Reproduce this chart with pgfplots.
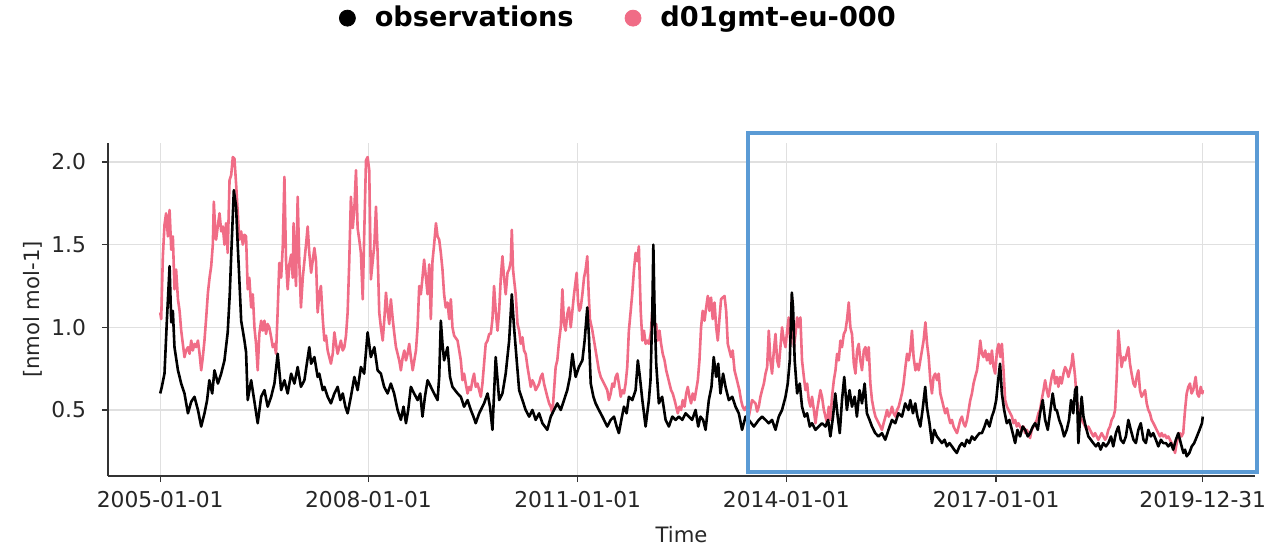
\documentclass[border=0pt]{standalone}
\usepackage{fontspec}
\setmainfont{DejaVu Sans}
\usepackage{pgfplots}
\pgfplotsset{compat=1.18}
\usepackage{pgfplotstable}
\definecolor{modc}{RGB}{240,108,134}
\definecolor{boxc}{RGB}{91,155,213}
\definecolor{gridc}{RGB}{224,224,224}
\definecolor{spinec}{RGB}{51,51,51}
\definecolor{txtc}{RGB}{38,38,38}

\pgfplotstableread{
d v
0 0.60
8 0.64
21 0.72
33 1.05
46 1.37
54 1.03
62 1.10
70 0.88
87 0.74
103 0.66
119 0.60
136 0.48
152 0.55
168 0.58
185 0.50
201 0.40
217 0.48
230 0.56
241 0.68
255 0.60
266 0.74
283 0.66
299 0.72
315 0.80
331 0.97
341 1.20
348 1.43
361 1.83
372 1.73
380 1.50
388 1.29
397 1.04
413 0.92
421 0.85
429 0.56
446 0.68
462 0.55
478 0.42
495 0.58
511 0.62
527 0.52
544 0.58
560 0.66
576 0.84
593 0.62
609 0.68
625 0.60
642 0.72
658 0.66
674 0.76
690 0.64
707 0.68
731 0.88
740 0.78
756 0.82
772 0.70
780 0.72
797 0.62
805 0.64
821 0.58
837 0.54
854 0.60
870 0.64
883 0.56
895 0.60
908 0.52
919 0.48
935 0.58
952 0.70
968 0.62
984 0.76
1000 0.72
1017 0.97
1033 0.82
1050 0.88
1066 0.74
1082 0.72
1098 0.64
1115 0.60
1131 0.66
1147 0.60
1164 0.50
1180 0.44
1193 0.52
1205 0.42
1216 0.50
1229 0.64
1245 0.60
1262 0.56
1275 0.60
1286 0.46
1298 0.58
1311 0.68
1327 0.64
1343 0.60
1360 0.56
1368 0.70
1376 1.04
1384 0.90
1392 0.80
1409 0.88
1421 0.70
1433 0.64
1458 0.60
1474 0.58
1490 0.52
1507 0.56
1523 0.50
1536 0.46
1547 0.42
1564 0.48
1588 0.54
1605 0.60
1617 0.52
1629 0.38
1645 0.82
1662 0.56
1678 0.60
1694 0.72
1711 0.92
1724 1.20
1735 1.00
1748 0.80
1760 0.62
1776 0.56
1792 0.50
1809 0.46
1825 0.50
1841 0.44
1858 0.48
1874 0.42
1898 0.38
1915 0.46
1931 0.50
1947 0.54
1964 0.50
1980 0.56
1996 0.62
2009 0.70
2021 0.84
2037 0.70
2053 0.76
2070 0.80
2081 0.92
2094 1.12
2102 0.95
2111 0.66
2124 0.58
2135 0.54
2151 0.50
2168 0.46
2192 0.40
2209 0.44
2225 0.46
2238 0.40
2249 0.36
2261 0.44
2274 0.52
2287 0.48
2298 0.58
2315 0.56
2331 0.62
2342 0.80
2352 0.70
2364 0.56
2380 0.40
2396 0.56
2404 0.68
2413 1.10
2418 1.50
2424 1.10
2432 0.78
2445 0.54
2461 0.58
2478 0.44
2494 0.40
2511 0.46
2527 0.44
2543 0.46
2560 0.44
2576 0.48
2592 0.46
2608 0.44
2625 0.50
2638 0.40
2649 0.46
2662 0.44
2674 0.38
2690 0.56
2703 0.64
2714 0.82
2726 0.70
2736 0.78
2747 0.60
2760 0.72
2772 0.64
2788 0.56
2805 0.58
2821 0.52
2837 0.48
2853 0.38
2870 0.46
2886 0.44
2911 0.40
2935 0.44
2951 0.46
2968 0.44
2984 0.42
3000 0.44
3017 0.38
3033 0.46
3049 0.50
3066 0.58
3077 0.66
3087 0.80
3097 1.21
3103 1.12
3111 0.80
3123 0.60
3136 0.66
3147 0.52
3160 0.46
3172 0.48
3185 0.40
3196 0.42
3213 0.38
3229 0.40
3245 0.42
3262 0.40
3275 0.44
3286 0.34
3299 0.46
3310 0.60
3322 0.46
3332 0.36
3343 0.56
3354 0.70
3367 0.50
3380 0.62
3392 0.52
3405 0.58
3416 0.46
3429 0.62
3441 0.54
3454 0.66
3465 0.48
3478 0.44
3490 0.40
3506 0.36
3522 0.34
3539 0.36
3555 0.32
3571 0.38
3588 0.44
3604 0.42
3620 0.48
3637 0.46
3653 0.54
3669 0.50
3678 0.56
3691 0.48
3702 0.54
3713 0.46
3727 0.40
3738 0.50
3751 0.64
3759 0.52
3772 0.42
3784 0.30
3795 0.38
3808 0.34
3821 0.32
3833 0.30
3846 0.32
3857 0.28
3870 0.30
3882 0.28
3893 0.26
3906 0.24
3919 0.28
3931 0.30
3944 0.28
3955 0.32
3968 0.30
3980 0.34
3993 0.32
4004 0.34
4017 0.36
4029 0.36
4042 0.40
4053 0.44
4066 0.40
4078 0.46
4089 0.50
4099 0.56
4107 0.66
4118 0.78
4127 0.60
4138 0.50
4151 0.42
4164 0.44
4176 0.38
4192 0.30
4203 0.38
4216 0.34
4229 0.40
4241 0.38
4254 0.34
4265 0.36
4279 0.40
4290 0.42
4303 0.38
4314 0.48
4327 0.56
4339 0.44
4352 0.38
4363 0.48
4376 0.60
4388 0.50
4396 0.50
4408 0.44
4420 0.40
4432 0.34
4445 0.38
4456 0.44
4466 0.56
4477 0.48
4486 0.62
4494 0.64
4502 0.30
4510 0.44
4518 0.58
4527 0.46
4538 0.40
4551 0.34
4563 0.32
4575 0.30
4588 0.28
4600 0.30
4611 0.26
4624 0.30
4637 0.28
4649 0.30
4662 0.34
4673 0.28
4686 0.36
4698 0.40
4710 0.32
4723 0.30
4735 0.34
4747 0.44
4759 0.38
4772 0.32
4784 0.30
4796 0.38
4808 0.42
4821 0.32
4833 0.30
4845 0.38
4857 0.34
4869 0.36
4882 0.32
4894 0.28
4907 0.32
4918 0.30
4931 0.30
4943 0.28
4956 0.30
4967 0.26
4980 0.32
4992 0.36
5004 0.30
5017 0.24
5025 0.26
5033 0.22
5046 0.24
5058 0.28
5070 0.30
5083 0.34
5096 0.38
5108 0.42
5112 0.46
}\obsdata

\pgfplotstableread{
d v
0 1.09
5 1.05
13 1.43
21 1.62
29 1.69
38 1.55
46 1.71
54 1.47
62 1.55
70 1.23
78 1.35
87 1.17
95 1.10
103 0.98
111 0.90
119 0.82
127 0.86
136 0.88
144 0.84
152 0.92
160 0.86
168 0.90
176 0.88
185 0.92
193 0.84
201 0.74
209 0.82
217 0.92
225 1.05
234 1.21
242 1.30
250 1.37
258 1.50
263 1.76
269 1.60
274 1.53
283 1.62
291 1.69
299 1.58
307 1.61
315 1.50
323 1.63
331 1.45
340 1.89
348 1.92
356 2.03
364 2.02
372 1.87
380 1.70
388 1.53
397 1.58
405 1.50
413 1.56
421 1.55
429 1.23
437 1.30
446 1.12
454 1.20
462 1.00
470 0.90
478 0.74
486 0.96
495 1.04
503 0.98
511 1.04
519 0.96
527 1.02
535 1.00
544 0.94
552 0.88
560 0.90
568 0.84
576 1.10
584 1.39
593 1.30
601 1.49
609 1.91
617 1.40
625 1.23
633 1.38
642 1.44
650 1.30
654 1.63
661 1.35
666 1.25
674 1.79
682 1.40
690 1.12
699 1.30
707 1.40
715 1.50
723 1.61
731 1.45
740 1.33
756 1.48
764 1.40
772 1.09
780 1.20
788 1.25
797 1.05
805 0.92
813 0.95
821 0.86
829 0.82
837 0.78
846 0.84
854 0.97
862 0.90
870 0.84
878 0.88
886 0.92
895 0.86
903 0.88
911 0.95
919 1.09
927 1.40
935 1.79
944 1.60
952 1.72
960 1.95
968 1.60
976 1.53
984 1.45
993 1.17
1001 1.60
1009 2.01
1017 2.03
1025 1.95
1033 1.29
1042 1.40
1050 1.50
1058 1.73
1066 1.45
1074 1.09
1082 1.00
1091 0.92
1099 1.05
1107 1.21
1115 1.10
1123 1.02
1131 1.17
1140 1.05
1148 0.96
1156 0.88
1164 0.84
1172 0.80
1180 0.74
1189 0.82
1197 0.86
1205 0.80
1213 0.84
1221 0.90
1229 0.82
1238 0.74
1246 0.80
1254 0.86
1262 1.00
1270 1.25
1278 1.20
1286 1.30
1294 1.41
1303 1.30
1311 1.20
1319 1.38
1327 1.05
1335 1.40
1343 1.50
1352 1.63
1360 1.55
1368 1.53
1376 1.45
1384 1.35
1392 1.20
1400 1.12
1409 1.15
1417 1.05
1425 1.17
1433 1.00
1441 0.95
1458 0.92
1474 0.80
1482 0.68
1490 0.72
1498 0.66
1507 0.60
1515 0.64
1523 0.62
1531 0.68
1539 0.72
1547 0.64
1556 0.66
1564 0.62
1572 0.58
1580 0.66
1588 0.78
1596 0.90
1605 0.92
1613 0.96
1621 0.96
1629 1.05
1637 1.25
1645 1.10
1654 0.98
1662 1.10
1670 1.30
1678 1.43
1686 1.30
1694 1.20
1703 1.33
1711 1.35
1719 1.40
1724 1.59
1730 1.35
1735 1.29
1743 1.20
1752 1.02
1760 0.98
1768 0.90
1776 0.94
1784 0.86
1792 0.84
1801 0.76
1809 0.70
1817 0.64
1825 0.68
1833 0.66
1841 0.62
1850 0.64
1858 0.66
1866 0.70
1874 0.72
1882 0.66
1890 0.62
1898 0.58
1907 0.54
1915 0.52
1923 0.48
1931 0.62
1939 0.76
1947 0.80
1956 0.92
1964 1.00
1972 1.23
1980 1.02
1988 0.98
1996 1.08
2004 1.12
2013 1.00
2021 1.10
2029 1.20
2037 1.28
2042 1.33
2049 1.15
2055 1.10
2062 1.12
2070 1.20
2078 1.30
2086 1.35
2094 1.43
2101 1.20
2107 1.05
2119 0.98
2127 0.92
2135 0.86
2143 0.80
2151 0.74
2160 0.70
2176 0.66
2192 0.62
2200 0.56
2209 0.60
2217 0.66
2225 0.64
2233 0.70
2241 0.72
2249 0.66
2258 0.58
2266 0.62
2274 0.60
2282 0.66
2290 0.76
2298 0.98
2307 1.10
2315 1.21
2323 1.35
2331 1.45
2339 1.40
2347 1.49
2356 1.10
2364 0.92
2372 0.98
2380 0.90
2388 0.92
2396 0.90
2405 0.96
2413 1.10
2418 1.20
2424 1.00
2432 1.02
2440 0.92
2448 0.98
2456 0.90
2464 0.84
2473 0.80
2481 0.74
2489 0.70
2497 0.66
2505 0.62
2513 0.60
2522 0.56
2530 0.52
2538 0.48
2546 0.52
2554 0.50
2562 0.56
2571 0.52
2579 0.60
2587 0.64
2595 0.58
2603 0.54
2611 0.60
2620 0.56
2628 0.62
2636 0.68
2644 0.80
2652 1.00
2660 1.10
2669 1.04
2677 1.12
2685 1.19
2693 1.10
2701 1.18
2709 1.05
2718 1.15
2726 1.00
2734 0.92
2742 1.05
2750 1.17
2758 1.18
2767 1.19
2775 1.10
2783 0.90
2791 0.86
2799 0.82
2807 0.86
2816 0.74
2824 0.70
2832 0.66
2840 0.62
2848 0.56
2856 0.52
2865 0.50
2873 0.52
2886 0.46
2902 0.56
2919 0.54
2927 0.49
2935 0.52
2943 0.58
2951 0.62
2960 0.66
2968 0.72
2976 0.76
2984 0.98
2992 0.80
3000 0.72
3009 0.86
3017 0.96
3025 0.80
3033 0.76
3041 0.88
3049 1.00
3058 0.92
3066 0.88
3074 0.98
3082 1.06
3090 0.90
3098 1.17
3107 0.88
3115 0.96
3123 1.06
3131 1.00
3139 1.06
3147 0.80
3156 0.70
3164 0.62
3172 0.66
3180 0.56
3188 0.52
3196 0.58
3205 0.50
3213 0.42
3221 0.50
3229 0.56
3237 0.62
3245 0.58
3254 0.50
3262 0.46
3270 0.42
3278 0.52
3286 0.44
3294 0.58
3303 0.68
3311 0.74
3319 0.84
3327 0.80
3335 0.92
3343 0.88
3352 0.96
3360 0.98
3368 1.05
3376 1.15
3384 1.00
3392 0.96
3401 0.78
3409 0.72
3417 0.86
3425 0.90
3433 0.80
3441 0.74
3450 0.86
3458 0.88
3466 0.80
3474 0.88
3482 0.66
3490 0.56
3499 0.50
3507 0.46
3515 0.44
3523 0.42
3531 0.40
3539 0.38
3547 0.42
3556 0.46
3564 0.50
3572 0.46
3580 0.48
3588 0.52
3596 0.48
3605 0.46
3613 0.50
3621 0.52
3629 0.56
3637 0.60
3645 0.66
3654 0.76
3662 0.84
3670 0.80
3678 0.86
3686 0.98
3694 0.82
3703 0.74
3711 0.78
3719 0.74
3727 0.80
3735 0.86
3743 0.92
3752 1.03
3760 0.90
3768 0.82
3776 0.68
3784 0.60
3792 0.70
3800 0.72
3809 0.68
3817 0.72
3825 0.60
3833 0.56
3841 0.52
3849 0.48
3858 0.51
3866 0.46
3874 0.42
3882 0.44
3890 0.40
3898 0.38
3907 0.36
3915 0.40
3923 0.44
3931 0.46
3939 0.42
3947 0.40
3956 0.44
3964 0.50
3972 0.56
3980 0.60
3988 0.66
3996 0.70
4005 0.74
4013 0.82
4021 0.92
4029 0.84
4037 0.82
4045 0.86
4054 0.80
4062 0.84
4070 0.78
4078 0.86
4086 0.76
4094 0.72
4103 0.86
4111 0.90
4119 0.82
4127 0.90
4135 0.74
4143 0.56
4152 0.52
4160 0.50
4168 0.48
4176 0.46
4184 0.42
4192 0.44
4200 0.40
4208 0.42
4216 0.40
4225 0.38
4233 0.40
4241 0.36
4249 0.38
4257 0.36
4265 0.33
4273 0.38
4282 0.40
4290 0.42
4298 0.44
4306 0.48
4314 0.50
4322 0.56
4331 0.62
4339 0.68
4347 0.62
4355 0.58
4363 0.64
4371 0.70
4380 0.74
4388 0.66
4396 0.70
4404 0.64
4412 0.70
4420 0.66
4429 0.72
4437 0.76
4445 0.74
4453 0.70
4461 0.74
4469 0.78
4474 0.84
4481 0.76
4486 0.70
4494 0.56
4502 0.50
4510 0.46
4518 0.44
4527 0.42
4535 0.40
4543 0.38
4551 0.40
4559 0.38
4567 0.36
4576 0.34
4584 0.36
4592 0.34
4600 0.32
4608 0.34
4616 0.36
4625 0.34
4633 0.32
4641 0.34
4649 0.38
4657 0.40
4665 0.44
4674 0.46
4682 0.50
4690 0.70
4698 0.98
4706 0.86
4714 0.76
4723 0.82
4731 0.80
4739 0.84
4747 0.88
4755 0.78
4763 0.72
4772 0.66
4780 0.64
4788 0.70
4796 0.74
4804 0.62
4812 0.58
4821 0.60
4829 0.62
4837 0.54
4845 0.50
4853 0.48
4861 0.44
4870 0.42
4878 0.40
4886 0.38
4894 0.36
4902 0.34
4910 0.36
4918 0.34
4927 0.35
4935 0.33
4943 0.34
4951 0.32
4959 0.30
4967 0.28
4976 0.24
4984 0.30
4992 0.34
5000 0.36
5008 0.34
5016 0.36
5025 0.50
5033 0.60
5041 0.64
5049 0.66
5057 0.60
5065 0.62
5077 0.70
5085 0.60
5093 0.58
5102 0.64
5110 0.60
5112 0.62
}\moddata

\begin{document}
\begin{tikzpicture}
\path[use as bounding box] (-54pt,-36pt) rectangle (586.5pt,238pt);
\begin{axis}[
  at={(0pt,0pt)}, anchor=south west,
  scale only axis, width=573.5pt, height=166.5pt,
  xmin=-256, xmax=5368, ymin=0.1007, ymax=2.115,
  axis lines=left,
  axis line style={-, spinec, line width=0.7pt},
  xtick={0,1021,2047,3070,4099,5112},
  xticklabels={2005-01-01,2008-01-01,2011-01-01,2014-01-01,2017-01-01,2019-12-31},
  ytick={0.5,1.0,1.5,2.0},
  yticklabel style={/pgf/number format/fixed, /pgf/number format/fixed zerofill, /pgf/number format/precision=1, xshift=-4.5pt},
  xticklabel style={yshift=-1pt},
  /pgf/number format/assume math mode=true,
  tick align=outside, major tick length=3pt,
  tick style={spinec, line width=0.7pt},
  grid=major, major grid style={gridc, line width=0.6pt},
  ticklabel style={font=\fontsize{10.9}{12}\selectfont, text=txtc},
  xlabel={Time}, ylabel={[nmol mol-1]},
  label style={font=\fontsize{10.6}{12}\selectfont, text=txtc},
  xlabel style={at={(axis description cs:0.5,-0.177)}, anchor=center},
  ylabel style={at={(axis description cs:-0.0654,0.5)}, anchor=center},
  clip=false,
  legend columns=2,
  legend style={at={(0.2014,1.375)}, anchor=west, draw=none, fill=none,
    inner sep=0pt, outer sep=0pt,
    font=\fontsize{13.6}{16}\selectfont\bfseries, text=black,
    nodes={inner sep=0pt},
    /tikz/every odd column/.append style={column sep=9.5pt},
    /tikz/every even column/.append style={column sep=25.5pt}},
  legend image code/.code={\fill[#1] (4pt,0pt) circle (4pt);},
]
\addlegendimage{black}
\addlegendentry{observations}
\addlegendimage{modc}
\addlegendentry{d01gmt-eu-000}
\addplot[modc, line width=1.3pt, line join=round, forget plot] table[x=d, y=v] {\moddata};
\addplot[black, line width=1.3pt, line join=round, forget plot] table[x=d, y=v] {\obsdata};
\draw[boxc, line width=2pt] (axis cs:2884,2.176) rectangle (axis cs:5377,0.125);
\end{axis}
\end{tikzpicture}
\end{document}
